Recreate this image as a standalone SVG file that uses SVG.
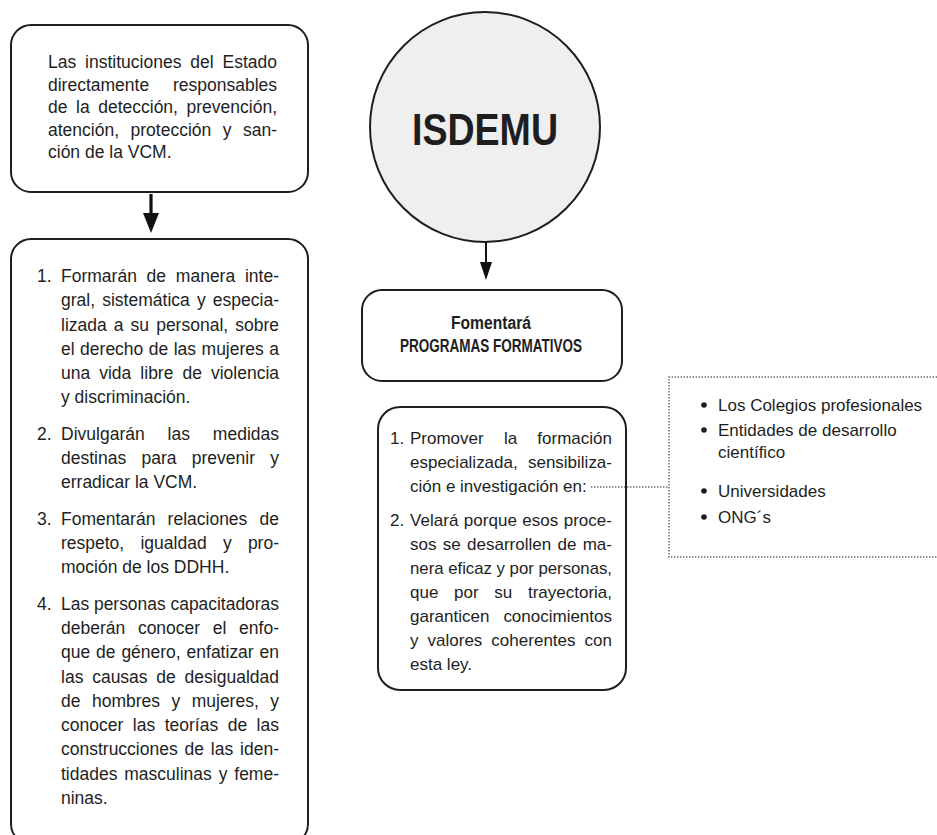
<svg xmlns="http://www.w3.org/2000/svg" width="937" height="835" viewBox="0 0 937 835">
<defs>
<style>
.box{fill:#ffffff;stroke:#1e1e1e;stroke-width:2}
.t{font-family:"Liberation Sans",Arial,sans-serif;font-size:17.5px;fill:#1e1e1e}
.s{font-size:17px}
.b{font-weight:bold}
.dot{fill:none;stroke:#6a6a6a;stroke-width:1.4;stroke-dasharray:1.4 1.6}
.con{stroke:#111;fill:none}
</style>
<marker id="headBig" markerUnits="userSpaceOnUse" markerWidth="20" markerHeight="16" viewBox="0 0 20 16" refX="9" refY="8" orient="auto">
<path d="M0,0 L20,8 L0,16 z" fill="#111"/>
</marker>
<marker id="headSmall" markerUnits="userSpaceOnUse" markerWidth="18" markerHeight="12" viewBox="0 0 18 12" refX="8" refY="6" orient="auto">
<path d="M0,0 L18,6 L0,12 z" fill="#111"/>
</marker>
</defs>
<rect width="937" height="835" fill="#ffffff"/>

<g id="node-instituciones">
<rect class="box" x="11" y="25" width="297" height="167" rx="20"/>
<text class="t" x="48" y="68" word-spacing="4" textLength="229" lengthAdjust="spacing">Las instituciones del Estado</text>
<text class="t" x="48" y="90.5" word-spacing="18.9" textLength="229" lengthAdjust="spacing">directamente responsables</text>
<text class="t" x="48" y="113" word-spacing="3.7" textLength="229" lengthAdjust="spacing">de la detección, prevención,</text>
<text class="t" x="48" y="135.5" word-spacing="6.6" textLength="229" lengthAdjust="spacing">atención, protección y san-</text>
<text class="t" x="48" y="158">ción de la VCM.</text>
</g>

<g id="node-acciones">
<rect class="box" x="11" y="239" width="297" height="605" rx="20"/>
<text class="t" x="37" y="282">1.</text>
<text class="t" x="61" y="282" word-spacing="4.9" textLength="218" lengthAdjust="spacing">Formarán de manera inte-</text>
<text class="t" x="61" y="306" word-spacing="2.3" textLength="218" lengthAdjust="spacing">gral, sistemática y especia-</text>
<text class="t" x="61" y="331" word-spacing="2.2" textLength="218" lengthAdjust="spacing">lizada a su personal, sobre</text>
<text class="t" x="61" y="355" word-spacing="0.6" textLength="218" lengthAdjust="spacing">el derecho de las mujeres a</text>
<text class="t" x="61" y="379" word-spacing="4.2" textLength="218" lengthAdjust="spacing">una vida libre de violencia</text>
<text class="t" x="61" y="403">y discriminación.</text>
<text class="t" x="37" y="440">2.</text>
<text class="t" x="61" y="440" word-spacing="18" textLength="218" lengthAdjust="spacing">Divulgarán las medidas</text>
<text class="t" x="61" y="464" word-spacing="10.4" textLength="218" lengthAdjust="spacing">destinas para prevenir y</text>
<text class="t" x="61" y="488">erradicar la VCM.</text>
<text class="t" x="37" y="525">3.</text>
<text class="t" x="61" y="525" word-spacing="7.3" textLength="218" lengthAdjust="spacing">Fomentarán relaciones de</text>
<text class="t" x="61" y="549" word-spacing="11.4" textLength="218" lengthAdjust="spacing">respeto, igualdad y pro-</text>
<text class="t" x="61" y="573">moción de los DDHH.</text>
<text class="t" x="37" y="610">4.</text>
<text class="t" x="61" y="610" textLength="218" lengthAdjust="spacingAndGlyphs">Las personas capacitadoras</text>
<text class="t" x="61" y="634" word-spacing="7.8" textLength="218" lengthAdjust="spacing">deberán conocer el enfo-</text>
<text class="t" x="61" y="658" word-spacing="1" textLength="218" lengthAdjust="spacing">que de género, enfatizar en</text>
<text class="t" x="61" y="683" word-spacing="3.9" textLength="218" lengthAdjust="spacing">las causas de desigualdad</text>
<text class="t" x="61" y="707" word-spacing="6.6" textLength="218" lengthAdjust="spacing">de hombres y mujeres, y</text>
<text class="t" x="61" y="731" word-spacing="4.6" textLength="218" lengthAdjust="spacing">conocer las teorías de las</text>
<text class="t" x="61" y="755" word-spacing="2" textLength="218" lengthAdjust="spacing">construcciones de las iden-</text>
<text class="t" x="61" y="780" word-spacing="2" textLength="218" lengthAdjust="spacing">tidades masculinas y feme-</text>
<text class="t" x="61" y="804">ninas.</text>
</g>

<g id="node-isdemu">
<circle cx="485" cy="127" r="115" fill="#efefef" stroke="#1e1e1e" stroke-width="2"/>
<text class="t b" x="485" y="145" style="font-size:44px" text-anchor="middle" textLength="146" lengthAdjust="spacingAndGlyphs">ISDEMU</text>
</g>

<g id="node-programas">
<rect class="box" x="362" y="290" width="260" height="91" rx="20"/>
<text class="t b" x="491" y="329" style="font-size:18px" text-anchor="middle" textLength="80" lengthAdjust="spacingAndGlyphs">Fomentará</text>
<text class="t b" x="491" y="352" style="font-size:18px" text-anchor="middle" textLength="182" lengthAdjust="spacingAndGlyphs">PROGRAMAS FORMATIVOS</text>
</g>

<g id="node-objetivos">
<rect class="box" x="378" y="407" width="248" height="283" rx="22"/>
<text class="t s" x="390" y="444">1.</text>
<text class="t s" x="410" y="444" word-spacing="15.5" textLength="202" lengthAdjust="spacing">Promover la formación</text>
<text class="t s" x="410" y="468" word-spacing="5.5" textLength="202" lengthAdjust="spacing">especializada, sensibiliza-</text>
<text class="t s" x="410" y="492">ción e investigación en:</text>
<text class="t s" x="390" y="526">2.</text>
<text class="t s" x="410" y="526" word-spacing="0.6" textLength="202" lengthAdjust="spacing">Velará porque esos proce-</text>
<text class="t s" x="410" y="550" word-spacing="1.6" textLength="202" lengthAdjust="spacing">sos se desarrollen de ma-</text>
<text class="t s" x="410" y="574" textLength="202" lengthAdjust="spacingAndGlyphs">nera eficaz y por personas,</text>
<text class="t s" x="410" y="598" word-spacing="11" textLength="202" lengthAdjust="spacing">que por su trayectoria,</text>
<text class="t s" x="410" y="622" word-spacing="9.3" textLength="202" lengthAdjust="spacing">garanticen conocimientos</text>
<text class="t s" x="410" y="646" word-spacing="4.3" textLength="202" lengthAdjust="spacing">y valores coherentes con</text>
<text class="t s" x="410" y="670">esta ley.</text>
</g>

<g id="node-entidades">
<path class="dot" d="M937,377 H669 V557 H937"/>
<circle cx="704" cy="405" r="2.8" fill="#1e1e1e"/>
<text class="t s" x="718" y="411">Los Colegios profesionales</text>
<circle cx="704" cy="430" r="2.8" fill="#1e1e1e"/>
<text class="t s" x="718" y="436">Entidades de desarrollo</text>
<text class="t s" x="718" y="458">científico</text>
<circle cx="704" cy="491" r="2.8" fill="#1e1e1e"/>
<text class="t s" x="718" y="497">Universidades</text>
<circle cx="704" cy="517" r="2.8" fill="#1e1e1e"/>
<text class="t s" x="718" y="523">ONG´s</text>
</g>

<g id="connectors">
<line class="con" x1="151" y1="194" x2="151" y2="222" stroke-width="3.2" marker-end="url(#headBig)"/>
<line class="con" x1="486" y1="242" x2="486" y2="270" stroke-width="2" marker-end="url(#headSmall)"/>
<path class="dot" d="M591,487 H669"/>
</g>
</svg>
